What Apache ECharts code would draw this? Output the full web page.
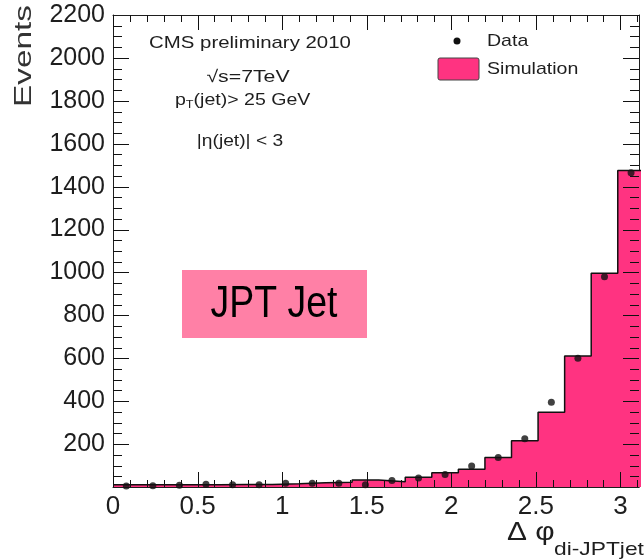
<!DOCTYPE html>
<html>
<head>
<meta charset="utf-8">
<script src="https://cdn.jsdelivr.net/npm/echarts@6/dist/echarts.min.js"></script>
<style>
html,body{margin:0;padding:0;background:#fff;}
#chart{width:644px;height:560px;}
</style>
</head>
<body>
<div id="chart"></div>
<script>
// Δφ histogram: 20 bins over [0, π]
var nBins = 20;
var xMin = 0, xMax = Math.PI;
var simulation = [10, 10, 11, 11, 12, 12, 15, 20, 22, 33, 25, 45, 67, 83, 137, 216, 348, 611, 996, 1475];
var data = [5, 6, 8, 13, 10, 10, 17, 17, 17, 10, 30, 42, 58, 98, 138, 225, 395, 600, 980, 1465];
var xTickStep = 0.5, xMinorPerMajor = 5, xAxisMax = 3.11;
var yTickStep = 200, yMinorPerMajor = 4, yTop = 2200;

var binW = (xMax - xMin) / nBins;
var stepData = [];
for (var k = 0; k < nBins; k++) {
  stepData.push([xMin + k * binW, simulation[k]]);
  stepData.push([xMin + (k + 1) * binW, simulation[k]]);
}
var dotData = data.map(function (v, k) { return [xMin + (k + 0.5) * binW, v]; });

// tick values (value, axis: 0 = x / 1 = y, major flag)
var tickData = [];
(function () {
  var xs = xTickStep / xMinorPerMajor;
  for (var i = 0; i * xs <= xAxisMax + 1e-9; i++) tickData.push([i * xs, 0, i % xMinorPerMajor === 0 ? 1 : 0]);
  var ys = yTickStep / yMinorPerMajor;
  for (var j = 1; j * ys < yTop - 1e-9; j++) tickData.push([j * ys, 1, j % yMinorPerMajor === 0 ? 1 : 0]);
})();

var FONT = "'Liberation Sans', Arial, Helvetica, sans-serif";
var PINK = '#ff3381';
var INK = '#1e1e1e';
var TICK = '#111';

function xAxisDef(pos, showLabel) {
  return {
    type: 'value', min: 0, max: xAxisMax, interval: xTickStep, position: pos,
    axisLine: { show: true, onZero: false, lineStyle: { color: INK, width: 1 } },
    axisTick: { show: false },
    minorTick: { show: false },
    axisLabel: showLabel ? { show: true, fontSize: 26, color: INK, fontFamily: FONT, margin: 7, showMaxLabel: false } : { show: false },
    splitLine: { show: false }, minorSplitLine: { show: false }
  };
}
function yAxisDef(pos, showLabel) {
  return {
    type: 'value', min: 0, max: yTop, interval: yTickStep, position: pos,
    axisLine: { show: true, onZero: false, lineStyle: { color: INK, width: 1 } },
    axisTick: { show: false },
    minorTick: { show: false },
    axisLabel: showLabel ? { show: true, formatter: function (v) { return String(v); }, fontSize: 25, color: INK, fontFamily: FONT, margin: 8, showMinLabel: false } : { show: false },
    splitLine: { show: false }, minorSplitLine: { show: false }
  };
}

function renderTick(params, api) {
  var v = api.value(0), axis = api.value(1), major = api.value(2);
  var cs = params.coordSys;
  var st = { stroke: TICK, lineWidth: 1 };
  if (axis === 0) {
    var x = Math.round(api.coord([v, 0])[0]) + 0.5;
    var len = major ? 15 : 7;
    var yb = cs.y + cs.height, yt = cs.y;
    return { type: 'group', children: [
      { type: 'line', shape: { x1: x, y1: yb, x2: x, y2: yb - len }, style: st },
      { type: 'line', shape: { x1: x, y1: yt, x2: x, y2: yt + len }, style: st }
    ] };
  } else {
    var y = Math.round(api.coord([0, v])[1]) + 0.5;
    var leny = major ? 16 : 9;
    var xl = cs.x, xr = cs.x + cs.width;
    return { type: 'group', children: [
      { type: 'line', shape: { x1: xl, y1: y, x2: xl + leny, y2: y }, style: st },
      { type: 'line', shape: { x1: xr, y1: y, x2: xr - leny, y2: y }, style: st }
    ] };
  }
}

var chart = echarts.init(document.getElementById('chart'), null, { renderer: 'canvas' });
var option = {
  animation: false,
  grid: { left: 113, right: 5, top: 15, bottom: 73, containLabel: false },
  xAxis: [xAxisDef('bottom', true), xAxisDef('top', false)],
  yAxis: [yAxisDef('left', true), yAxisDef('right', false)],
  series: [
    {
      name: 'Simulation', type: 'line', data: stepData,
      symbol: 'none', clip: false, z: 2,
      lineStyle: { color: '#111', width: 1.5 },
      areaStyle: { color: PINK, opacity: 1 }
    },
    {
      name: 'Data', type: 'scatter', data: dotData,
      symbol: 'circle', symbolSize: 7, z: 5,
      itemStyle: { color: '#111' }
    },
    {
      name: 'ticks', type: 'custom', data: tickData, renderItem: renderTick,
      encode: { x: 0 }, clip: false, z: 8, silent: true
    }
  ],
  graphic: [
    { type: 'text', x: 25, y: 56, rotation: Math.PI / 2, scaleX: 1.45,
      style: { text: 'Events', font: '23px ' + FONT, fill: '#333', align: 'center', verticalAlign: 'middle' } },
    { type: 'text', x: 250, y: 43, scaleX: 1.2,
      style: { text: 'CMS preliminary 2010', font: '17px ' + FONT, fill: INK, align: 'center', verticalAlign: 'middle' } },
    { type: 'text', x: 248, y: 77, scaleX: 1.25,
      style: { text: '\u221As=7TeV', font: '17px ' + FONT, fill: INK, align: 'center', verticalAlign: 'middle' } },
    { type: 'text', x: 175, y: 100, scaleX: 1.15,
      style: { text: '{a|p}{s|T}{a|(jet)> 25 GeV}', font: '17px ' + FONT, fill: INK, align: 'left', verticalAlign: 'middle',
        rich: { a: { fontSize: 17, fontFamily: FONT, color: INK }, s: { fontSize: 11, fontFamily: FONT, color: INK, padding: [10, 0, 0, 0] } } } },
    { type: 'text', x: 240, y: 142, scaleX: 1.2,
      style: { text: '|\u03B7(jet)| < 3', font: '16px ' + FONT, fill: INK, align: 'center', verticalAlign: 'middle' } },
    // legend
    { type: 'circle', shape: { cx: 457, cy: 41, r: 3.5 }, style: { fill: '#111' } },
    { type: 'text', x: 487, y: 41, scaleX: 1.15,
      style: { text: 'Data', font: '17px ' + FONT, fill: INK, align: 'left', verticalAlign: 'middle' } },
    { type: 'rect', shape: { x: 438, y: 58, width: 41, height: 22, r: 2 }, style: { fill: PINK, stroke: '#444', lineWidth: 1 } },
    { type: 'text', x: 487, y: 69, scaleX: 1.15,
      style: { text: 'Simulation', font: '17px ' + FONT, fill: INK, align: 'left', verticalAlign: 'middle' } },
    // JPT Jet box
    { type: 'rect', shape: { x: 182, y: 270, width: 185, height: 68 }, style: { fill: '#ff80a6' } },
    { type: 'text', x: 274, y: 305, scaleX: 0.85,
      style: { text: 'JPT Jet', font: '44px ' + FONT, fill: '#000', align: 'center', verticalAlign: 'middle' } },
    // x axis title
    { type: 'text', x: 507, y: 533, scaleX: 1.15,
      style: { text: '\u0394 \u03C6', font: '26px ' + FONT, fill: INK, align: 'left', verticalAlign: 'middle' } },
    { type: 'text', x: 554, y: 550, scaleX: 1.2,
      style: { text: 'di-JPTjet', font: '19px ' + FONT, fill: INK, align: 'left', verticalAlign: 'middle' } }
  ]
};
chart.setOption(option);
</script>
</body>
</html>
